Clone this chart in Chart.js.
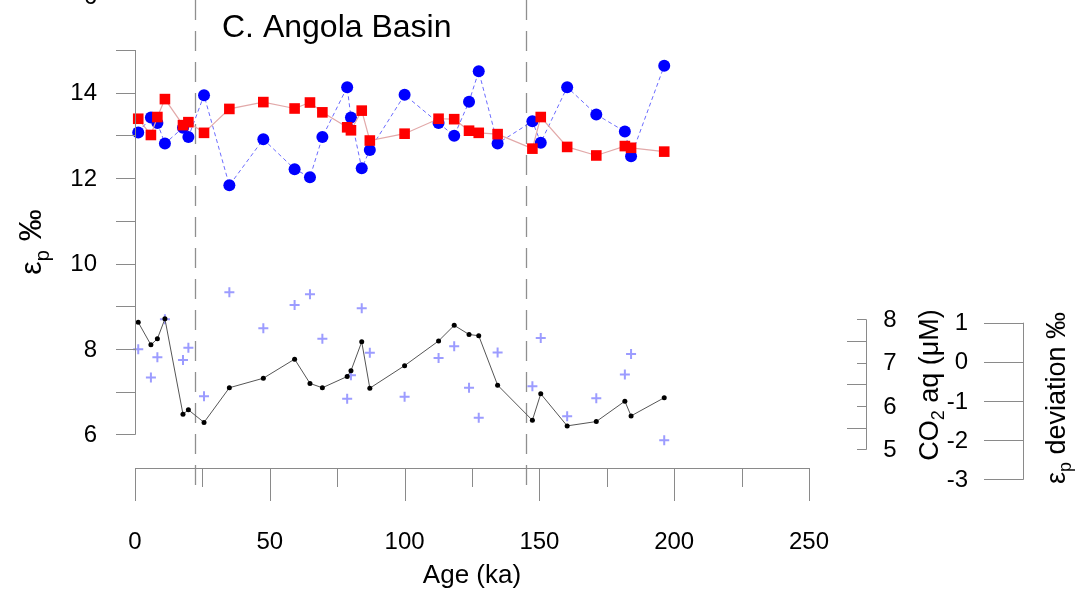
<!DOCTYPE html>
<html>
<head>
<meta charset="utf-8">
<script src="https://cdn.jsdelivr.net/npm/chart.js@4.4.1/dist/chart.umd.min.js"></script>
<style>
    html, body { margin: 0; padding: 0; background: #fff; }
    #wrap { width: 1076px; height: 589px; }
</style>
</head>
<body>
<div id="wrap"><canvas id="angola" width="1076" height="589"></canvas></div>
<script>
(function () {
    'use strict';

    // ── 資料────────────────────────────────────────────
    var AGES    = [1.2, 5.9, 8.3, 11.1, 17.8, 19.8, 25.6, 35.0, 47.6, 59.2, 64.9, 69.5, 78.7, 80.1, 84.1,
                   87.1, 100.0, 112.6, 118.4, 123.9, 127.5, 134.5, 147.4, 150.5, 160.3, 171.1, 181.7, 184.0, 196.3];
    var EP_BLUE = [13.07, 13.42, 13.29, 12.81, 13.18, 12.96, 13.94, 11.83, 12.91, 12.21, 12.02, 12.96, 14.13, 13.42, 12.23,
                   12.66, 13.95, 13.29, 12.99, 13.79, 14.50, 12.81, 13.33, 12.83, 14.13, 13.49, 13.09, 12.51, 14.63];
    var EP_RED  = [13.39, 13.01, 13.43, 13.85, 13.24, 13.31, 13.06, 13.62, 13.78, 13.63, 13.77, 13.54, 13.19, 13.12, 13.58,
                   12.88, 13.04, 13.39, 13.38, 13.11, 13.06, 13.03, 12.69, 13.43, 12.73, 12.53, 12.75, 12.71, 12.62];
    var CO2_AQ  = [7.93, 7.41, 7.55, 8.01, 5.81, 5.91, 5.62, 6.42, 6.64, 7.08, 6.52, 6.42, 6.68, 6.81, 7.48,
                   6.41, 6.93, 7.50, 7.86, 7.65, 7.62, 6.48, 5.67, 6.28, 5.54, 5.64, 6.11, 5.77, 6.19];
    var EP_DEV  = [0.32, -0.40, 0.12, 1.09, 0.05, 0.36, -0.88, 1.78, 0.86, 1.45, 1.73, 0.59, -0.94, -0.34, 1.37,
                   0.23, -0.89, 0.10, 0.40, -0.66, -1.43, 0.24, -0.62, 0.61, -1.39, -0.93, -0.32, 0.20, -2.00];

    var BOUNDARIES = [22.3, 145.0];   // 虛線（ka）

    var X_TICKS   = [0, 50, 100, 150, 200, 250];
    var X_MINOR   = [25, 75, 125, 175, 225];
    var EP_TICKS  = [6, 8, 10, 12, 14];
    var EP_MINOR  = [7, 9, 11, 13, 15];
    var CO2_TICKS = [5, 6, 7, 8];
    var CO2_MINOR = [5.5, 6.5, 7.5];
    var DEV_TICKS = [1, 0, -1, -2, -3];

    var FONT = "'Liberation Sans', Arial, sans-serif";
    var AXIS_COLOR = '#8a8a8a';

    function pts(ys) {
        return AGES.map(function (a, i) { return { x: a, y: ys[i] }; });
    }

    // 旋轉文字（含下標），中心對齊
    function rotText(ctx, cx, cy, parts) {
        var total = 0;
        parts.forEach(function (p) {
            ctx.font = p.size + 'px ' + FONT;
            p.w = ctx.measureText(p.t).width;
            total += p.w;
        });
        ctx.save();
        ctx.translate(cx, cy);
        ctx.rotate(-Math.PI / 2);
        ctx.textAlign = 'left';
        ctx.textBaseline = 'alphabetic';
        var x = -total / 2;
        parts.forEach(function (p) {
            ctx.font = p.size + 'px ' + FONT;
            ctx.fillText(p.t, x, p.dy || 0);
            x += p.w;
        });
        ctx.restore();
    }

    function hLine(ctx, x1, x2, y) {
        var py = Math.round(y) + 0.5;
        ctx.beginPath(); ctx.moveTo(x1, py); ctx.lineTo(x2, py); ctx.stroke();
    }
    function vLine(ctx, x, y1, y2) {
        var px = Math.round(x) + 0.5;
        ctx.beginPath(); ctx.moveTo(px, y1); ctx.lineTo(px, y2); ctx.stroke();
    }

    // ── R 風格的座標軸與文字 ─────────────────────────────────
    var rAxes = {
        id: 'rAxes',
        beforeDatasetsDraw: function (chart) {
            var ctx = chart.ctx, xs = chart.scales.x;
            ctx.save();
            ctx.strokeStyle = '#8f8f8f';
            ctx.lineWidth = 1.3;
            ctx.setLineDash([20, 11]);
            BOUNDARIES.forEach(function (a) {
                vLine(ctx, xs.getPixelForValue(a), 0, 496);
            });
            ctx.restore();
        },
        afterDraw: function (chart) {
            var ctx = chart.ctx;
            var xs = chart.scales.x, ys = chart.scales.y;
            var yc = chart.scales.yCo2, yd = chart.scales.yDev;
            ctx.save();
            ctx.strokeStyle = AXIS_COLOR;
            ctx.lineWidth = 1;
            ctx.fillStyle = '#000';

            // 左軸 εp
            var x0 = xs.getPixelForValue(0);
            vLine(ctx, x0, ys.getPixelForValue(15), ys.getPixelForValue(6) + 0.5);
            EP_TICKS.concat(EP_MINOR).forEach(function (v) {
                hLine(ctx, x0 - 19, x0, ys.getPixelForValue(v));
            });
            ctx.font = '24px ' + FONT;
            ctx.textAlign = 'right';
            ctx.textBaseline = 'middle';
            EP_TICKS.forEach(function (v) {
                ctx.fillText(String(v), 97, ys.getPixelForValue(v) + 1);
            });
            ctx.fillText('6', 97, -3);   // 上一個面板殘留的刻度

            // X 軸
            var yAx = 468;
            hLine(ctx, x0, xs.getPixelForValue(250), yAx);
            X_TICKS.forEach(function (v) { vLine(ctx, xs.getPixelForValue(v), yAx, 501); });
            X_MINOR.forEach(function (v) { vLine(ctx, xs.getPixelForValue(v), yAx, 487); });
            ctx.textAlign = 'center';
            ctx.textBaseline = 'alphabetic';
            X_TICKS.forEach(function (v) {
                ctx.fillText(String(v), xs.getPixelForValue(v), 549);
            });
            ctx.font = '26px ' + FONT;
            ctx.fillText('Age (ka)', (xs.left + xs.right) / 2, 583);

            // CO2 aq 軸
            var xc = 866;
            vLine(ctx, xc, yc.getPixelForValue(8), yc.getPixelForValue(5) + 0.5);
            CO2_TICKS.forEach(function (v) { hLine(ctx, xc - 9, xc, yc.getPixelForValue(v)); });
            CO2_MINOR.forEach(function (v) { hLine(ctx, xc - 19, xc, yc.getPixelForValue(v)); });
            ctx.font = '24px ' + FONT;
            ctx.textAlign = 'center';
            ctx.textBaseline = 'middle';
            CO2_TICKS.forEach(function (v) {
                ctx.fillText(String(v), 890, yc.getPixelForValue(v) + 1);
            });

            // εp deviation 軸
            var xdv = 1023;
            vLine(ctx, xdv, yd.getPixelForValue(1), yd.getPixelForValue(-3) + 0.5);
            DEV_TICKS.forEach(function (v) { hLine(ctx, xdv - 39, xdv, yd.getPixelForValue(v)); });
            ctx.textAlign = 'right';
            DEV_TICKS.forEach(function (v) {
                ctx.fillText(String(v), 968, yd.getPixelForValue(v) + 1);
            });

            // 軸標題
            rotText(ctx, 41, 242, [
                { t: '\u03b5', size: 30 },
                { t: 'p', size: 20, dy: 8 },
                { t: ' \u2030', size: 32 }
            ]);
            rotText(ctx, 938, 385, [
                { t: 'CO', size: 27 },
                { t: '2', size: 18, dy: 6 },
                { t: ' aq (\u03bcM)', size: 27 }
            ]);
            rotText(ctx, 1065, 398, [
                { t: '\u03b5', size: 27 },
                { t: 'p', size: 18, dy: 6 },
                { t: ' deviation \u2030', size: 27 }
            ]);

            // 面板標題
            ctx.font = '32px ' + FONT;
            ctx.textAlign = 'left';
            ctx.textBaseline = 'alphabetic';
            ctx.fillText('C. Angola Basin', 222, 37);

            ctx.restore();
        }
    };

    new Chart(document.getElementById('angola').getContext('2d'), {
        type: 'line',
        data: {
            datasets: [{
                data: pts(EP_RED),
                yAxisID: 'y',
                order: 1,
                borderColor: '#e2a9a9',
                borderWidth: 1.2,
                pointStyle: 'rect',
                pointRadius: 7.5,
                pointBackgroundColor: '#ff0000',
                pointBorderWidth: 0,
                tension: 0,
                clip: false
            }, {
                data: pts(EP_BLUE),
                yAxisID: 'y',
                order: 2,
                borderColor: '#6b6bff',
                borderWidth: 1,
                borderDash: [4, 3],
                pointStyle: 'circle',
                pointRadius: 6,
                pointBackgroundColor: '#0000ff',
                pointBorderWidth: 0,
                tension: 0,
                clip: false
            }, {
                data: pts(CO2_AQ),
                yAxisID: 'yCo2',
                order: 3,
                borderColor: '#555',
                borderWidth: 1,
                pointStyle: 'circle',
                pointRadius: 2.5,
                pointBackgroundColor: '#000',
                pointBorderWidth: 0,
                tension: 0,
                clip: false
            }, {
                data: pts(EP_DEV),
                yAxisID: 'yDev',
                order: 4,
                showLine: false,
                pointStyle: 'cross',
                pointRadius: 5,
                pointBorderColor: '#9c9cff',
                pointBorderWidth: 2,
                clip: false
            }]
        },
        options: {
            responsive: false,
            animation: false,
            layout: { padding: { left: 135, right: 267, top: 50, bottom: 121 } },
            plugins: { legend: { display: false }, tooltip: { enabled: false } },
            scales: {
                x:    { type: 'linear', min: 0, max: 250, display: false },
                y:    { type: 'linear', min: 5.211, max: 15.0, display: false },
                yCo2: { type: 'linear', min: 4.568, max: 14.215, display: false },
                yDev: { type: 'linear', min: -2.711, max: 7.966, display: false }
            }
        },
        plugins: [rAxes]
    });
})();
</script>
</body>
</html>
